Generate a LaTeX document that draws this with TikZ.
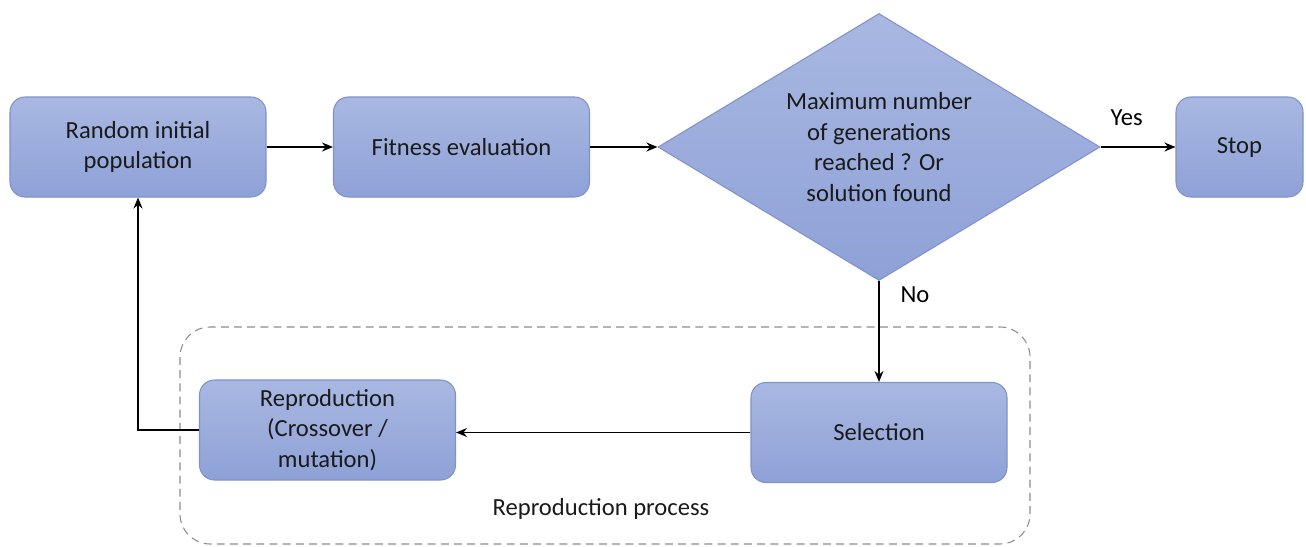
\documentclass[tikz,border=0pt]{standalone}
\usepackage{fontspec}
\setmainfont{Carlito}
\usetikzlibrary{positioning}
\usetikzlibrary{shapes.geometric}
\usetikzlibrary{arrows.meta}
\definecolor{boxtop}{HTML}{A9B8E2}
\definecolor{boxbot}{HTML}{8EA1D7}
\definecolor{boxline}{HTML}{7F92CA}
\definecolor{txt}{HTML}{1A1A1A}

\begin{document}
\begin{tikzpicture}[
		font=\fontsize{14}{17.5}\selectfont, text=txt,
		stepbox/.style={draw=boxline, line width=0.6pt, top color=boxtop, bottom color=boxbot,
			rounded corners=0.3cm, minimum width=5.12cm, minimum height=2cm, align=center},
		decision/.style={diamond, draw=boxline, line width=0.6pt, top color=boxtop, bottom color=boxbot,
			aspect=1.655, inner sep=0pt, minimum width=8.84cm, minimum height=5.34cm, align=center},
		flow/.style={-{Stealth[length=2.2mm, width=1.8mm]}, line width=0.8pt, black},
		procbox/.style={draw=black!45, line width=0.6pt, dash pattern=on 4.5pt off 3pt, rounded corners=0.6cm}
	]
	\useasboundingbox (0,0) rectangle (26.12,-10.94);
	
	% reproduction process frame
	\draw[procbox] (3.6,-6.54) rectangle (20.6,-10.88);
	\node (proclabel) at (12.02,-10.18) {Reproduction process};
	
	% top row
	\node[stepbox] (rand) at (2.76,-2.94) {Random initial\\population};
	\node[stepbox] (fit) at (9.23,-2.94) {Fitness evaluation};
	\node[decision] (cond) at (17.58,-2.94) {Maximum number\\of generations\\reached ? Or\\solution found};
	\node[stepbox, minimum width=2.54cm] (stop) at (24.79,-2.94) {Stop};
	
	% bottom row
	\node[stepbox] (sel) at (17.58,-8.65) {Selection};
	\node[stepbox] (repro) at (6.55,-8.6) {Reproduction\\(Crossover /\\mutation)};
	
	% connectors
	\draw[flow] (rand) -- (fit);
	\draw[flow] (fit) -- (cond);
	\draw[flow] (cond) -- node[above=0.3cm, pos=0.35] (yes) {Yes} (stop);
	\draw[flow] (cond) -- node[right=0.3cm, pos=0.14] (no) {No} (sel);
	\draw[flow] (sel.west) -- (repro.east |- sel.west);
	\draw[flow] (repro.west) -| (rand.south);
\end{tikzpicture}
\end{document}
